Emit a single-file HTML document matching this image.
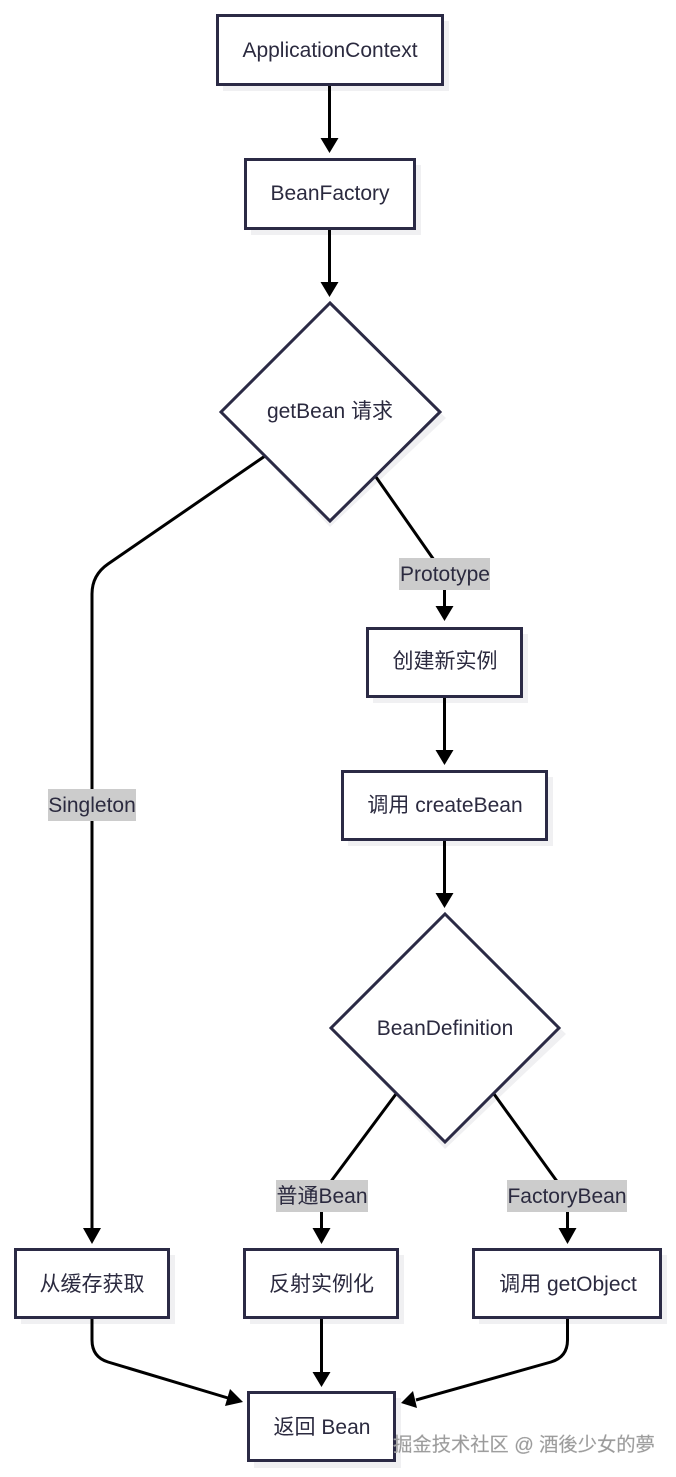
<!DOCTYPE html>
<html><head><meta charset="utf-8">
<style>
html,body{margin:0;padding:0;background:#fff;width:676px;height:1477px;overflow:hidden}
svg{display:block;filter:blur(0.35px)}
text{font-family:"Liberation Sans","Noto Sans CJK SC",sans-serif;font-size:21px;fill:#2b2a3f;text-anchor:middle}
.b{fill:#fff;stroke:#2b2a45;stroke-width:3}
.s{fill:#f0f0f2}
.l{fill:none;stroke:#000;stroke-width:3}
.a{fill:#000}
.g{fill:#cccccc}
</style></head><body>
<svg width="676" height="1477" viewBox="0 0 676 1477" xmlns="http://www.w3.org/2000/svg">
<!-- shadows -->
<rect class="s" x="223" y="21" width="226" height="70"/>
<rect class="s" x="251" y="165" width="170" height="70"/>
<polygon class="s" points="330,309 446,418 330,527 227,418"/>
<rect class="s" x="373" y="634" width="155" height="69"/>
<rect class="s" x="348" y="777" width="205" height="69"/>
<polygon class="s" points="445,920 566,1034 445,1149 337,1034"/>
<rect class="s" x="21" y="1255" width="154" height="69"/>
<rect class="s" x="250" y="1255" width="154" height="69"/>
<rect class="s" x="479" y="1255" width="188" height="69"/>
<rect class="s" x="254" y="1398" width="147" height="70"/>
<!-- connectors -->
<path class="l" d="M329.500 84V138"/>
<path class="l" d="M329.500 228V282"/>
<path class="l" d="M265 456L108 564Q92 575 92 594V1228"/>
<path class="l" d="M376 477L434 560Q444.500 575 444.500 590V606"/>
<path class="l" d="M444.500 696V750"/>
<path class="l" d="M444.500 839V893"/>
<path class="l" d="M396 1094L332 1180Q321.500 1194 321.500 1205V1228"/>
<path class="l" d="M494 1094L556 1180Q567.500 1194 567.500 1205V1228"/>
<path class="l" d="M92 1318V1340Q92 1357 108 1362L228 1398"/>
<path class="l" d="M321.500 1318V1372"/>
<path class="l" d="M567.500 1318V1340Q567.500 1357 551 1362L416 1400"/>
<!-- arrowheads -->
<polygon class="a" points="320.500,138 338.500,138 329.500,153"/>
<polygon class="a" points="320.500,282 338.500,282 329.500,297"/>
<polygon class="a" points="83,1228 101,1228 92,1244"/>
<polygon class="a" points="435.500,606 453.500,606 444.500,621"/>
<polygon class="a" points="435.500,750 453.500,750 444.500,765"/>
<polygon class="a" points="435.500,893 453.500,893 444.500,908"/>
<polygon class="a" points="312.500,1228 330.500,1228 321.500,1244"/>
<polygon class="a" points="558.500,1228 576.500,1228 567.500,1244"/>
<polygon class="a" points="225,1406 230,1389 243,1402"/>
<polygon class="a" points="312.500,1372 330.500,1372 321.500,1387"/>
<polygon class="a" points="413,1391 417,1408 401,1403"/>
<!-- nodes -->
<rect class="b" x="217.500" y="15.500" width="225" height="69"/>
<text x="330" y="57">ApplicationContext</text>
<rect class="b" x="245.500" y="159.500" width="169" height="69"/>
<text x="330" y="200">BeanFactory</text>
<polygon class="b" points="330,303 440,412 330,521 221,412"/>
<text x="330" y="418">getBean 请求</text>
<rect class="b" x="367.500" y="628.500" width="154" height="68"/>
<text x="445" y="668">创建新实例</text>
<rect class="b" x="342.500" y="771.500" width="204" height="68"/>
<text x="445" y="812">调用 createBean</text>
<polygon class="b" points="445,914 559,1028 445,1142 331,1028"/>
<text x="445" y="1035">BeanDefinition</text>
<rect class="b" x="15.500" y="1249.500" width="153" height="68"/>
<text x="92" y="1291">从缓存获取</text>
<rect class="b" x="244.500" y="1249.500" width="153" height="68"/>
<text x="321.500" y="1291">反射实例化</text>
<rect class="b" x="473.500" y="1249.500" width="187" height="68"/>
<text x="568" y="1291">调用 getObject</text>
<rect class="b" x="248.500" y="1392.500" width="146" height="68"/>
<text x="322" y="1434">返回 Bean</text>
<!-- edge labels -->
<rect class="g" x="399" y="558" width="91" height="32"/>
<text x="445" y="581">Prototype</text>
<rect class="g" x="48" y="789" width="88" height="32"/>
<text x="92" y="812">Singleton</text>
<rect class="g" x="276" y="1180" width="92" height="32"/>
<text x="322" y="1203">普通Bean</text>
<rect class="g" x="507" y="1180" width="120" height="32"/>
<text x="567" y="1203">FactoryBean</text>
<!-- watermark -->
<text x="524" y="1451" style="font-size:19.300px;fill:#999999;stroke:#bbbbbb;stroke-width:0.300px">掘金技术社区 @ 酒後少女的夢</text>
</svg>
</body></html>
